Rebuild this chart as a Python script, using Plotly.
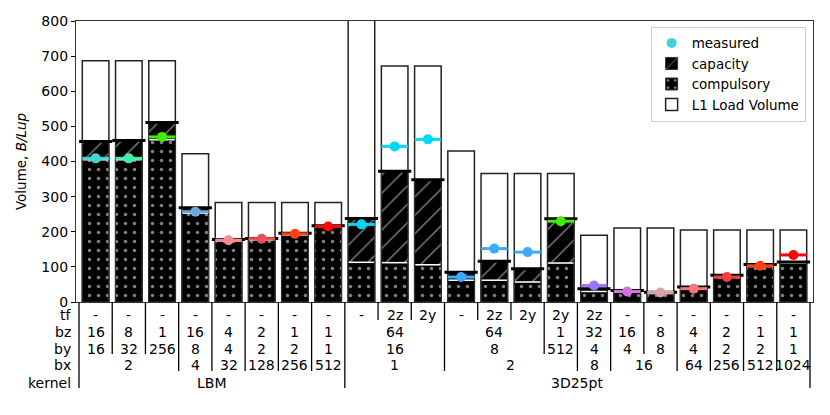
import plotly.graph_objects as go

# configuration table below the bars (one entry per bar)
tf = ["-"] * 8 + ["-", "2z", "2y", "-", "2z", "2y", "2y", "2z", "-", "-", "-", "-", "-", "-"]
bz = ["16", "8", "1", "16", "4", "2", "1", "1",
      "64", "64", "64", "64", "64", "64", "1", "32", "16", "8", "4", "2", "1", "1"]
by = ["16", "32", "256", "8", "4", "2", "2", "1",
      "16", "16", "16", "8", "8", "8", "512", "4", "4", "8", "4", "2", "2", "1"]
bx = ["2", "2", "2", "4", "32", "128", "256", "512",
      "1", "1", "1", "2", "2", "2", "2", "8", "16", "16", "64", "256", "512", "1024"]
kernel = ["LBM"] * 8 + ["3D25pt"] * 14

# volumes in B/Lup
l1_load = [687, 687, 687, 422, 283, 283, 283, 283,
           850, 672, 672, 430, 366, 366, 366, 190, 211, 211, 205, 205, 205, 205]
capacity = [457, 460, 511, 268, 178, 181, 196, 217,
            238, 372, 348, 85, 116, 95, 237, 38, 33, 28, 43, 76, 107, 114]
compulsory = [405, 405, 462, 253, 174, 177, 191, 213,
              113, 112, 106, 62, 62, 57, 111, 30, 28, 24, 38, 70, 101, 111]
measured = [409, 409, 470, 257, 176, 180, 194, 215,
            221, 443, 463, 71, 152, 142, 230, 47, 30, 27, 38, 71, 103, 134]
measured_colors = ["#3fd5d5", "#3ff0a8", "#40ee00", "#6aa6e0", "#f78a8a", "#f24c55",
                   "#ff4010", "#ff0505", "#00d8f5", "#00d8f5", "#00d8f5", "#3fa9ff",
                   "#3fa9ff", "#3fa9ff", "#40f000", "#a070ff", "#d472e0", "#d8a3a3",
                   "#f87676", "#f53f3f", "#ff4010", "#ff0505"]

row_names = ["tf", "bz", "by", "bx", "kernel"]
rows = [tf, bz, by, bx, kernel]

FONT = "DejaVu Sans"
PLOT_H = 281   # px height of the plotting area
ROW_H = 17     # px per table row
PAGE_PAD = 8   # default body margin of the html page

pos = list(range(len(l1_load)))

fig = go.Figure()

fig.add_trace(go.Bar(
    x=pos, y=l1_load, name="L1 Load Volume", width=0.8, legendrank=4,
    marker=dict(color="white", line=dict(color="#222", width=1.5)),
))
fig.add_trace(go.Bar(
    x=pos, y=capacity, name="capacity", width=0.8, legendrank=2,
    marker=dict(color="black", line=dict(color="#333", width=1),
                pattern=dict(shape="/", fgcolor="white", bgcolor="black",
                             size=13, solidity=0.11)),
))
fig.add_trace(go.Bar(
    x=pos, y=compulsory, name="compulsory", width=0.8, legendrank=3,
    marker=dict(color="black", line=dict(color="#333", width=1),
                pattern=dict(shape=".", fgcolor="white", bgcolor="black",
                             size=9, solidity=0.12)),
))

# white separator at the top of the compulsory part
fig.add_trace(go.Scatter(
    x=pos, y=compulsory, mode="markers", showlegend=False, hoverinfo="skip",
    marker=dict(size=0.1, color="rgba(0,0,0,0)"),
    error_x=dict(type="constant", value=0.38, thickness=1.5, width=0, color="white"),
))
# black capacity marks
fig.add_trace(go.Scatter(
    x=pos, y=capacity, mode="markers", showlegend=False, hoverinfo="skip",
    marker=dict(size=0.1, color="rgba(0,0,0,0)"),
    error_x=dict(type="constant", value=0.5, thickness=3, width=0, color="black"),
))
# measured values, one colour per bar
for i, (p, m, c) in enumerate(zip(pos, measured, measured_colors)):
    fig.add_trace(go.Scatter(
        x=[p], y=[m], mode="markers", name="measured", legendrank=1,
        showlegend=(i == 0),
        marker=dict(size=10, color=c),
        error_x=dict(type="constant", value=0.4, thickness=3, width=0, color=c),
    ))


def px_to_paper(dy):
    return -dy / PLOT_H


def same_below(k, i, j):
    return all(rows[r][i] == rows[r][j] for r in range(k, len(rows)))


# table text (merged cells)
n = len(pos)
for k, (name, vals) in enumerate(zip(row_names, rows)):
    yc = px_to_paper(12.5 + ROW_H * k)
    fig.add_annotation(x=-0.004, xref="paper", y=yc, yref="paper", text=name,
                       showarrow=False, xanchor="right", yanchor="middle",
                       font=dict(size=14, family=FONT, color="black"))
    start = 0
    for i in range(1, n + 1):
        if i == n or not same_below(k, i - 1, i):
            fig.add_annotation(x=(pos[start] + pos[i - 1]) / 2, xref="x", y=yc, yref="paper",
                               text=vals[start], showarrow=False, yanchor="middle",
                               font=dict(size=14, family=FONT, color="black"))
            start = i

# table separators
shapes = []
for i in range(n + 1):
    if i == 0 or i == n:
        depth = len(rows) - 1
    else:
        depth = max(k for k in range(len(rows)) if rows[k][i - 1] != rows[k][i])
    xb = i - 0.5
    shapes.append(dict(type="line", xref="x", yref="paper", x0=xb, x1=xb,
                       y0=0, y1=px_to_paper(18 + ROW_H * depth),
                       line=dict(color="black", width=1.3)))

fig.update_layout(
    width=830 - PAGE_PAD, height=415 - PAGE_PAD,
    margin=dict(l=76 - PAGE_PAD, r=17, t=21 - PAGE_PAD, b=113),
    paper_bgcolor="white", plot_bgcolor="white",
    barmode="overlay",
    font=dict(family=FONT, size=14, color="black"),
    shapes=shapes,
    showlegend=True,
    legend=dict(x=0.99, y=0.98, xanchor="right", yanchor="top",
                bgcolor="rgba(255,255,255,0.85)", bordercolor="#cccccc", borderwidth=1,
                font=dict(size=13.5, family=FONT), tracegroupgap=0),
    xaxis=dict(range=[-0.59, 21.59], showticklabels=False, ticks="", showgrid=False,
               zeroline=False, showline=True, mirror=True, linecolor="#333", linewidth=1.2,
               automargin=False),
    yaxis=dict(range=[0, 800], tickvals=[0, 100, 200, 300, 400, 500, 600, 700, 800],
               ticks="outside", ticklen=4, tickcolor="black", showgrid=False, zeroline=False,
               showline=True, mirror=True, linecolor="#333", linewidth=1.2,
               tickfont=dict(size=14, family=FONT), automargin=False,
               title=dict(text="Volume, <i>B/Lup</i>", font=dict(size=13.5, family=FONT),
                          standoff=11)),
)

fig.write_html("out.html")
